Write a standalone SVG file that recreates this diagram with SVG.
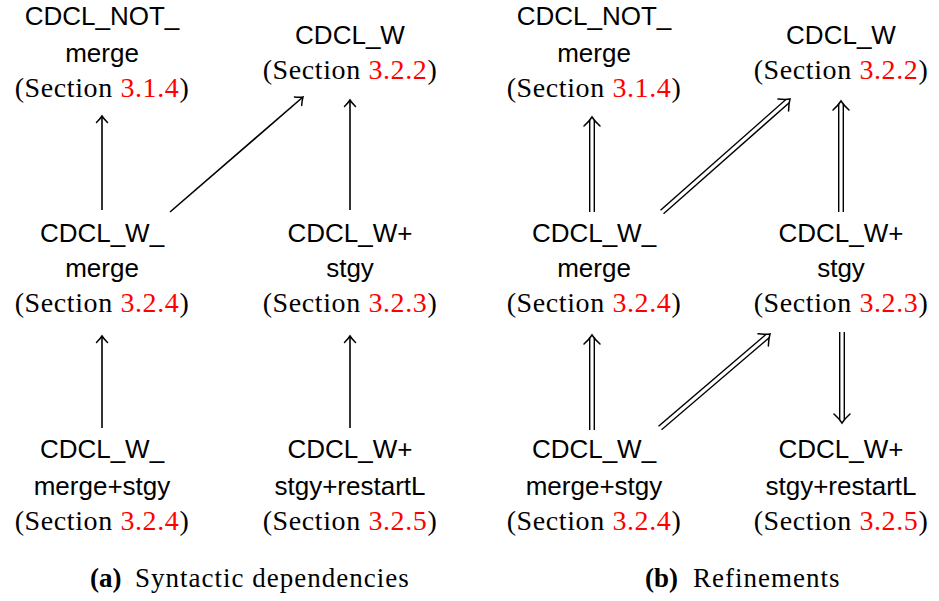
<svg xmlns="http://www.w3.org/2000/svg" xmlns:xlink="http://www.w3.org/1999/xlink" width="939" height="601" viewBox="0 0 939 601">
<style>
.sans{font-family:"Liberation Sans","Open Sans",sans-serif;font-size:26px;fill:#000;text-anchor:middle}
.ser{font-family:"Liberation Serif","DejaVu Serif",serif;font-size:28px;letter-spacing:0.6px;fill:#000;text-anchor:middle}
.red{fill:#ff0000}
.cap{font-family:"Liberation Serif","DejaVu Serif",serif;font-size:27px;letter-spacing:1px;fill:#000}
.capb{font-weight:bold;letter-spacing:0}
.thin{stroke:#000;stroke-width:1.6;fill:none}
.dblo{stroke:#000;stroke-width:6;fill:none}
.dbli{stroke:#fff;stroke-width:3.2;fill:none}
.head{stroke:#000;stroke-width:1.5;fill:none;stroke-linecap:round}
</style>
<defs>
<path id="th" class="head" d="M -6.5,-5.5 Q -2.5,-1.5 0,0 Q -2.5,1.5 -6.5,5.5"/>
<path id="dh" class="head" d="M -9,-8 Q -4,-2.5 0,0 Q -4,2.5 -9,8"/>
</defs>
<rect width="939" height="601" fill="#fff"/>

<g id="a-notmerge">
<text class="sans" x="102" y="25">CDCL_NOT_</text>
<text class="sans" x="102" y="62">merge</text>
<text class="ser" x="102" y="97">(Section <tspan class="red">3.1.4</tspan>)</text>
</g>
<g id="a-w">
<text class="sans" x="350" y="44">CDCL_W</text>
<text class="ser" x="350" y="79">(Section <tspan class="red">3.2.2</tspan>)</text>
</g>
<g id="a-wmerge">
<text class="sans" x="102" y="242">CDCL_W_</text>
<text class="sans" x="102" y="277">merge</text>
<text class="ser" x="102" y="312">(Section <tspan class="red">3.2.4</tspan>)</text>
</g>
<g id="a-wstgy">
<text class="sans" x="350" y="242">CDCL_W+</text>
<text class="sans" x="350" y="277">stgy</text>
<text class="ser" x="350" y="312">(Section <tspan class="red">3.2.3</tspan>)</text>
</g>
<g id="a-wmergestgy">
<text class="sans" x="102" y="458">CDCL_W_</text>
<text class="sans" x="102" y="495">merge+stgy</text>
<text class="ser" x="102" y="530">(Section <tspan class="red">3.2.4</tspan>)</text>
</g>
<g id="a-wstgyrestart">
<text class="sans" x="350" y="458">CDCL_W+</text>
<text class="sans" x="350" y="495">stgy+restartL</text>
<text class="ser" x="350" y="530">(Section <tspan class="red">3.2.5</tspan>)</text>
</g>

<g id="b-notmerge">
<text class="sans" x="594" y="25">CDCL_NOT_</text>
<text class="sans" x="594" y="62">merge</text>
<text class="ser" x="594" y="97">(Section <tspan class="red">3.1.4</tspan>)</text>
</g>
<g id="b-w">
<text class="sans" x="841" y="44">CDCL_W</text>
<text class="ser" x="841" y="79">(Section <tspan class="red">3.2.2</tspan>)</text>
</g>
<g id="b-wmerge">
<text class="sans" x="594" y="242">CDCL_W_</text>
<text class="sans" x="594" y="277">merge</text>
<text class="ser" x="594" y="312">(Section <tspan class="red">3.2.4</tspan>)</text>
</g>
<g id="b-wstgy">
<text class="sans" x="841" y="242">CDCL_W+</text>
<text class="sans" x="841" y="277">stgy</text>
<text class="ser" x="841" y="312">(Section <tspan class="red">3.2.3</tspan>)</text>
</g>
<g id="b-wmergestgy">
<text class="sans" x="594" y="458">CDCL_W_</text>
<text class="sans" x="594" y="495">merge+stgy</text>
<text class="ser" x="594" y="530">(Section <tspan class="red">3.2.4</tspan>)</text>
</g>
<g id="b-wstgyrestart">
<text class="sans" x="841" y="458">CDCL_W+</text>
<text class="sans" x="841" y="495">stgy+restartL</text>
<text class="ser" x="841" y="530">(Section <tspan class="red">3.2.5</tspan>)</text>
</g>

<g id="captions">
<text class="cap" x="90" y="587"><tspan class="capb">(a)</tspan><tspan x="135">Syntactic dependencies</tspan></text>
<text class="cap" x="645" y="587"><tspan class="capb">(b)</tspan><tspan x="693">Refinements</tspan></text>
</g>

<g id="connectors">
<line class="thin" x1="102" y1="210" x2="102" y2="117"/>
<use xlink:href="#th" transform="translate(102,116) rotate(-90)"/>
<line class="thin" x1="170" y1="212" x2="302.4" y2="97.5"/>
<use xlink:href="#th" transform="translate(303,97) rotate(-40.85)"/>
<line class="thin" x1="350" y1="210" x2="350" y2="101"/>
<use xlink:href="#th" transform="translate(350,100) rotate(-90)"/>
<line class="thin" x1="102" y1="428" x2="102" y2="337"/>
<use xlink:href="#th" transform="translate(102,336) rotate(-90)"/>
<line class="thin" x1="350" y1="428" x2="350" y2="337"/>
<use xlink:href="#th" transform="translate(350,336) rotate(-90)"/>

<line class="dblo" x1="592" y1="212" x2="592" y2="120"/>
<line class="dbli" x1="592" y1="213" x2="592" y2="119"/>
<use xlink:href="#dh" transform="translate(592,117) rotate(-90)"/>

<line class="dblo" x1="662" y1="212" x2="787.75" y2="100.99"/>
<line class="dbli" x1="661.2" y1="212.7" x2="788.5" y2="100.3"/>
<use xlink:href="#dh" transform="translate(790,99) rotate(-41.44)"/>

<line class="dblo" x1="841" y1="212" x2="841" y2="104"/>
<line class="dbli" x1="841" y1="213" x2="841" y2="103"/>
<use xlink:href="#dh" transform="translate(841,101) rotate(-90)"/>

<line class="dblo" x1="592" y1="430" x2="592" y2="338"/>
<line class="dbli" x1="592" y1="431" x2="592" y2="337"/>
<use xlink:href="#dh" transform="translate(592,335) rotate(-90)"/>

<line class="dblo" x1="660" y1="428" x2="767.72" y2="335.95"/>
<line class="dbli" x1="659.2" y1="428.7" x2="768.5" y2="335.3"/>
<use xlink:href="#dh" transform="translate(770,334) rotate(-40.5)"/>

<line class="dblo" x1="842" y1="332" x2="842" y2="420"/>
<line class="dbli" x1="842" y1="331" x2="842" y2="421"/>
<use xlink:href="#dh" transform="translate(842,423) rotate(90)"/>
</g>
</svg>
